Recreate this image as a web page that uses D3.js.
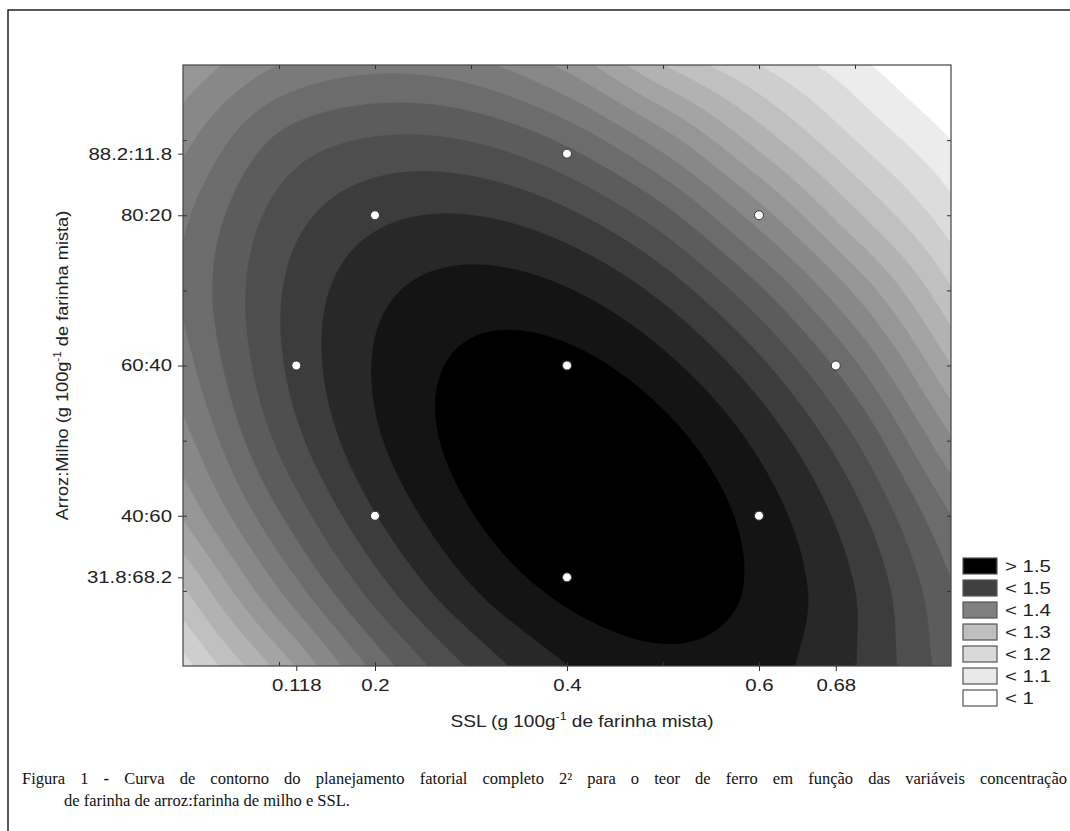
<!DOCTYPE html>
<html>
<head>
<meta charset="utf-8">
<script src="https://cdn.jsdelivr.net/npm/d3@7"></script>
<style>
  body { margin: 0; background: #fff; }
  svg { display: block; }
  .axis text { font-family: "Liberation Sans", Arial, sans-serif; font-size: 17px; fill: #222; }
  .axis line { stroke: #333; }
</style>
</head>
<body>
<svg id="chart" width="1070" height="831"></svg>
<script>
// fitted iron content, rows from Arroz 100 down to 20
const sslGrid = [0, 0.1, 0.2, 0.3, 0.4, 0.5, 0.6, 0.7, 0.8];
const riceGrid = [100, 90, 80, 70, 60, 50, 40, 30, 20];
const feGrid = [
  [1.207, 1.267, 1.290, 1.277, 1.223, 1.133, 1.067, 1.010, 0.950],
  [1.257, 1.339, 1.370, 1.365, 1.325, 1.249, 1.153, 1.067, 1.000],
  [1.293, 1.379, 1.424, 1.433, 1.407, 1.346, 1.249, 1.140, 1.047],
  [1.303, 1.397, 1.457, 1.481, 1.469, 1.422, 1.339, 1.227, 1.103],
  [1.286, 1.395, 1.469, 1.507, 1.510, 1.477, 1.409, 1.305, 1.167],
  [1.253, 1.373, 1.461, 1.513, 1.530, 1.512, 1.458, 1.368, 1.237],
  [1.203, 1.329, 1.431, 1.498, 1.530, 1.526, 1.486, 1.411, 1.300],
  [1.127, 1.265, 1.381, 1.463, 1.508, 1.519, 1.493, 1.433, 1.337],
  [1.053, 1.178, 1.310, 1.405, 1.466, 1.491, 1.480, 1.434, 1.350]
];

// contour levels and the grey of the band above each one
const levels = [1.000, 1.033, 1.067, 1.100, 1.133, 1.167, 1.200, 1.233,
                1.267, 1.300, 1.333, 1.367, 1.400, 1.433, 1.467, 1.500];
const levelFills = ["#ececec", "#dcdcdc", "#cecece", "#c0c0c0", "#b2b2b2", "#a4a4a4",
                    "#969696", "#888888", "#7a7a7a", "#6c6c6c", "#5c5c5c", "#4e4e4e",
                    "#3c3c3c", "#282828", "#141414", "#000000"];

// experimental design points
const pointSsl  = [0.2, 0.6, 0.2, 0.6, 0.118, 0.68, 0.4, 0.4, 0.4];
const pointRice = [40, 40, 80, 80, 60, 60, 31.8, 88.2, 60];

const sslTicks = [0.118, 0.2, 0.4, 0.6, 0.68];
const sslLabels = ["0.118", "0.2", "0.4", "0.6", "0.68"];
const riceTicks = [31.8, 40, 60, 80, 88.2];
const riceLabels = ["31.8:68.2", "40:60", "60:40", "80:20", "88.2:11.8"];
const sslMinor = [0.1, 0.2, 0.3, 0.4, 0.5, 0.6, 0.7];
const riceMinor = [30, 40, 50, 60, 70, 80, 90];

const legendLabels = ["> 1.5", "< 1.5", "< 1.4", "< 1.3", "< 1.2", "< 1.1", "< 1"];
const legendFills = ["#000000", "#404040", "#808080", "#bfbfbf", "#d9d9d9", "#e9e9e9", "#ffffff"];

const svg = d3.select("#chart");
const L = 183, T = 65, R = 951, B = 666;
const x = d3.scaleLinear().domain([0, 0.8]).range([L, R]);
const y = d3.scaleLinear().domain([20, 100]).range([B, T]);

// the source picture is a little wider than tall, so text is stretched
function stretch(sel, k) {
  sel.each(function() {
    const w = this.getComputedTextLength();
    d3.select(this).attr("textLength", w * k).attr("lengthAdjust", "spacingAndGlyphs");
  });
}

// outer frame of the figure
svg.append("path").attr("d", `M8,831V10H1070`).attr("fill", "none")
   .attr("stroke", "#222").attr("stroke-width", 1.5);

// --- resample the grid (Catmull-Rom) and contour it ---
const nR = feGrid.length, nC = feGrid[0].length;
function node(r, c) {
  if (r < 0) return 2 * node(0, c) - node(1, c);
  if (r >= nR) return 2 * node(nR - 1, c) - node(nR - 2, c);
  if (c < 0) return 2 * node(r, 0) - node(r, 1);
  if (c >= nC) return 2 * node(r, nC - 1) - node(r, nC - 2);
  return feGrid[r][c];
}
function cr(p0, p1, p2, p3, t) {
  return 0.5 * (2 * p1 + (p2 - p0) * t + (2 * p0 - 5 * p1 + 4 * p2 - p3) * t * t
         + (3 * p1 - p0 - 3 * p2 + p3) * t * t * t);
}
function sample(fr, fc) {
  const r = Math.min(Math.max(Math.floor(fr), 0), nR - 2);
  const c = Math.min(Math.max(Math.floor(fc), 0), nC - 2);
  const tr = fr - r, tc = fc - c;
  const rows = [-1, 0, 1, 2].map(dr =>
    cr(node(r + dr, c - 1), node(r + dr, c), node(r + dr, c + 1), node(r + dr, c + 2), tc));
  return cr(rows[0], rows[1], rows[2], rows[3], tr);
}

const nx = 193, ny = 151;
const values = new Array(nx * ny);
for (let j = 0; j < ny; j++) {
  for (let i = 0; i < nx; i++) {
    values[j * nx + i] = sample(j * (nR - 1) / (ny - 1), i * (nC - 1) / (nx - 1));
  }
}
const sslStep = (sslGrid[nC - 1] - sslGrid[0]) / (nx - 1);
const riceStep = (riceGrid[0] - riceGrid[nR - 1]) / (ny - 1);
const proj = d3.geoTransform({
  point: function(cx, cy) {
    this.stream.point(x(sslGrid[0] + (cx - 0.5) * sslStep), y(riceGrid[0] - (cy - 0.5) * riceStep));
  }
});
const path = d3.geoPath(proj);

svg.append("clipPath").attr("id", "plotclip")
   .append("rect").attr("x", L).attr("y", T).attr("width", R - L).attr("height", B - T);

const plot = svg.append("g").attr("clip-path", "url(#plotclip)");
plot.append("rect").attr("x", L).attr("y", T).attr("width", R - L).attr("height", B - T)
    .attr("fill", "#ffffff");

const contours = d3.contours().size([nx, ny]).thresholds(levels)(values);
plot.selectAll("path.band").data(contours).join("path")
    .attr("class", "band")
    .attr("d", path)
    .attr("fill", (d, i) => levelFills[i])
    .attr("stroke", (d, i) => levelFills[i])
    .attr("stroke-width", 0.6);

// design points
plot.selectAll("circle.pt").data(pointSsl).join("circle")
    .attr("class", "pt")
    .attr("cx", d => x(d))
    .attr("cy", (d, i) => y(pointRice[i]))
    .attr("r", 4.5)
    .attr("fill", "#ffffff")
    .attr("stroke", "#333")
    .attr("stroke-width", 1);

// plot border
svg.append("rect").attr("x", L).attr("y", T).attr("width", R - L).attr("height", B - T)
   .attr("fill", "none").attr("stroke", "#444").attr("stroke-width", 1.2);

// --- axes ---
function clean(g) { g.select(".domain").remove(); }

svg.append("g").attr("class", "axis").attr("transform", `translate(0,${B})`)
   .call(d3.axisBottom(x).tickValues(sslTicks).tickSize(5).tickPadding(8)
         .tickFormat((d, i) => sslLabels[i]))
   .call(clean)
   .call(g => stretch(g.selectAll("text"), 1.2));
svg.append("g").attr("class", "axis").attr("transform", `translate(0,${B})`)
   .call(d3.axisBottom(x).tickValues(sslMinor).tickSize(-4).tickFormat(""))
   .call(clean);
svg.append("g").attr("class", "axis").attr("transform", `translate(0,${T})`)
   .call(d3.axisTop(x).tickValues(sslMinor).tickSize(-4).tickFormat(""))
   .call(clean);

svg.append("g").attr("class", "axis").attr("transform", `translate(${L},0)`)
   .call(d3.axisLeft(y).tickValues(riceTicks).tickSize(5).tickPadding(6)
         .tickFormat((d, i) => riceLabels[i]))
   .call(clean)
   .call(g => stretch(g.selectAll("text"), 1.2));
svg.append("g").attr("class", "axis").attr("transform", `translate(${L},0)`)
   .call(d3.axisLeft(y).tickValues(riceMinor).tickSize(-4).tickFormat(""))
   .call(clean);
svg.append("g").attr("class", "axis").attr("transform", `translate(${R},0)`)
   .call(d3.axisRight(y).tickValues(riceMinor).tickSize(-4).tickFormat(""))
   .call(clean);

// axis titles
const xt = svg.append("g").attr("transform", `translate(${(L + R) / 2 + 15},727) scale(1.12,1)`)
   .append("text").attr("text-anchor", "middle")
   .style("font-family", "'Liberation Sans', Arial, sans-serif").style("font-size", "17px")
   .style("fill", "#222");
xt.append("tspan").text("SSL (g 100g");
xt.append("tspan").attr("dy", -7).style("font-size", "11px").text("-1");
xt.append("tspan").attr("dy", 7).text(" de farinha mista)");

const yt = svg.append("g").attr("transform", `translate(68,${(T + B) / 2}) rotate(-90) scale(1.07,1)`)
   .append("text").attr("text-anchor", "middle")
   .style("font-family", "'Liberation Sans', Arial, sans-serif").style("font-size", "17px")
   .style("fill", "#222");
yt.append("tspan").text("Arroz:Milho (g 100g");
yt.append("tspan").attr("dy", -7).style("font-size", "11px").text("-1");
yt.append("tspan").attr("dy", 7).text(" de farinha mista)");

// --- legend ---
const leg = svg.append("g").attr("transform", "translate(963,558)");
const li = leg.selectAll("g").data(legendLabels).join("g")
   .attr("transform", (d, i) => `translate(0,${i * 22})`);
li.append("rect").attr("width", 34).attr("height", 16)
  .attr("fill", (d, i) => legendFills[i]).attr("stroke", "#555").attr("stroke-width", 1.2);
li.append("text").attr("x", 42).attr("y", 14).text(d => d)
  .style("font-family", "'Liberation Sans', Arial, sans-serif").style("font-size", "17px")
  .style("fill", "#222")
  .call(s => stretch(s, 1.2));

// --- caption (justified first line, hanging second line) ---
const capFont = "'Liberation Serif', 'Times New Roman', serif";
const cap = svg.append("text").attr("x", 22).attr("y", 784)
   .style("font-family", capFont).style("font-size", "16.5px").style("fill", "#111");
cap.append("tspan").text("Figura 1 ");
cap.append("tspan").style("font-weight", "bold").text("-");
cap.append("tspan").text(" Curva de contorno do planejamento fatorial completo 2² para o teor de ferro em função das variáveis concentração");
const capW = cap.node().getComputedTextLength();
const nSpaces = cap.text().split(" ").length - 1;
cap.style("word-spacing", ((1067 - 22 - capW) / nSpaces) + "px");

svg.append("text").attr("x", 64).attr("y", 806)
   .style("font-family", capFont).style("font-size", "16.5px").style("fill", "#111")
   .text("de farinha de arroz:farinha de milho e SSL.");
</script>
</body>
</html>
